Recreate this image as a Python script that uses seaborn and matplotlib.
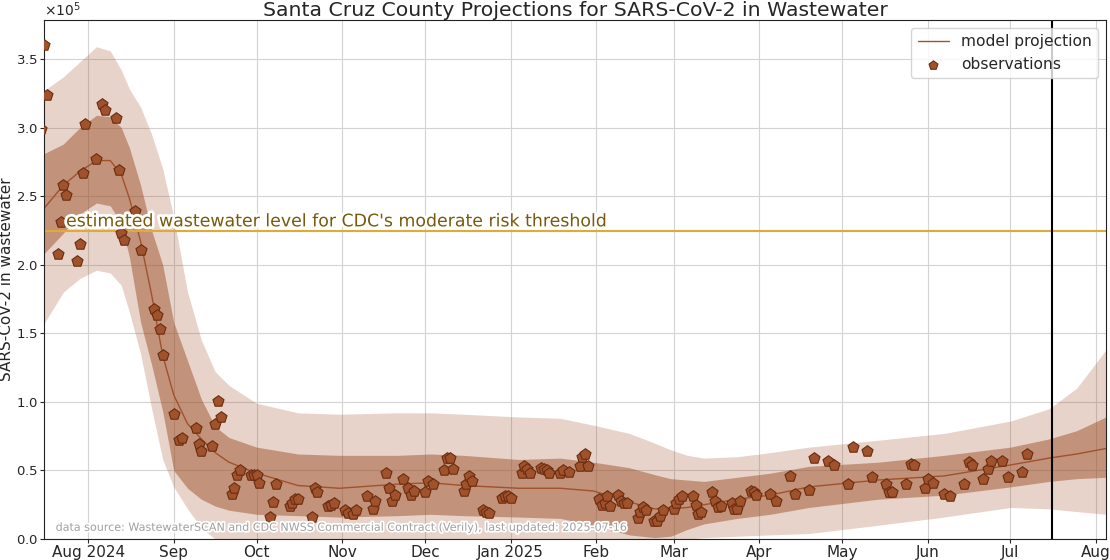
import numpy as np
import pandas as pd
import matplotlib
matplotlib.use("Agg")
import matplotlib.pyplot as plt
import matplotlib.patheffects as pe
from matplotlib.ticker import ScalarFormatter
import seaborn as sns

# ------------------------------------------------------------
# data (days counted from 2024-08-01, values in copies)
# ------------------------------------------------------------
base_date = pd.Timestamp("2024-08-01")

obs_day = [-17, -16, -15, -11, -10, -9, -8, -4, -3, -2, -1, 3, 5, 6, 10, 11, 12, 13, 17, 19,
           24, 25, 26, 27, 31, 33, 34, 39, 40, 41, 45, 46, 47, 48, 52, 53, 54, 55, 59, 60,
           61, 62, 66, 67, 68, 73, 74, 75, 76, 81, 82, 83, 87, 88, 89, 93, 94, 96, 97, 101,
           103, 104, 108, 109, 110, 111, 114, 116, 117, 118, 122, 123, 125, 129, 130, 131, 132, 136, 137, 138,
           139, 143, 144, 145, 150, 151, 152, 153, 157, 158, 159, 160, 164, 165, 166, 167, 171, 172, 174, 178,
           179, 180, 181, 185, 186, 187, 188, 189, 192, 193, 194, 195, 199, 200, 201, 202, 205, 206, 207, 208,
           212, 213, 214, 215, 219, 220, 221, 222, 226, 227, 228, 229, 233, 234, 235, 236, 240, 241, 242, 247,
           249, 254, 256, 261, 263, 268, 270, 275, 277, 282, 284, 289, 290, 291, 296, 298, 299, 303, 304, 306,
           310, 312, 317, 319, 320, 324, 326, 327, 331, 333, 338, 340]
obs_val = [2.99, 3.60, 3.24, 2.08, 2.31, 2.58, 2.51, 2.03, 2.15, 2.67, 3.03, 2.77, 3.17, 3.13, 3.07, 2.69, 2.23, 2.18, 2.39, 2.11,
           1.68, 1.63, 1.53, 1.34, 0.91, 0.72, 0.74, 0.81, 0.69, 0.64, 0.68, 0.84, 1.01, 0.89, 0.33, 0.37, 0.47, 0.50, 0.47, 0.47,
           0.47, 0.41, 0.16, 0.27, 0.40, 0.24, 0.26, 0.29, 0.29, 0.16, 0.37, 0.34, 0.24, 0.25, 0.26, 0.21, 0.19, 0.18, 0.21, 0.31,
           0.22, 0.28, 0.48, 0.37, 0.28, 0.32, 0.44, 0.37, 0.32, 0.35, 0.34, 0.42, 0.40, 0.50, 0.59, 0.59, 0.51, 0.35, 0.40, 0.46,
           0.42, 0.21, 0.20, 0.19, 0.30, 0.31, 0.31, 0.30, 0.48, 0.53, 0.51, 0.48, 0.52, 0.51, 0.50, 0.48, 0.48, 0.50, 0.49, 0.53,
           0.60, 0.62, 0.53, 0.29, 0.25, 0.26, 0.31, 0.24, 0.32, 0.28, 0.26, 0.26, 0.15, 0.20, 0.23, 0.21, 0.13, 0.13, 0.17, 0.21,
           0.22, 0.26, 0.29, 0.31, 0.31, 0.25, 0.18, 0.20, 0.34, 0.28, 0.23, 0.24, 0.26, 0.22, 0.22, 0.28, 0.35, 0.34, 0.32, 0.33,
           0.28, 0.46, 0.33, 0.36, 0.59, 0.57, 0.54, 0.40, 0.67, 0.64, 0.45, 0.40, 0.34, 0.34, 0.40, 0.55, 0.54, 0.37, 0.44, 0.41,
           0.33, 0.31, 0.40, 0.56, 0.54, 0.44, 0.51, 0.57, 0.57, 0.45, 0.49, 0.62]

model_day = [-16, -9, -3, 3, 8, 12, 15, 19, 23, 27, 31, 36, 41, 46, 51, 61, 76, 91, 112,
             124, 136, 156, 171, 183, 196, 205, 211, 217, 223, 235, 247, 261, 286, 310, 334, 348, 358, 368.6]
model_med = [2.41, 2.58, 2.68, 2.76, 2.76, 2.66, 2.48, 2.17, 1.78, 1.34, 1.05, 0.84, 0.73, 0.63, 0.56, 0.48, 0.39, 0.37, 0.40,
             0.41, 0.39, 0.37, 0.37, 0.35, 0.27, 0.22, 0.22, 0.23, 0.25, 0.29, 0.32, 0.38, 0.43, 0.46, 0.54, 0.59, 0.62, 0.66]
inner_hi = [2.81, 2.88, 3.00, 3.09, 3.08, 3.00, 2.85, 2.58, 2.25, 2.00, 1.58, 1.30, 1.02, 0.82, 0.74, 0.67, 0.62, 0.61, 0.61,
            0.62, 0.61, 0.58, 0.59, 0.56, 0.52, 0.47, 0.44, 0.43, 0.42, 0.45, 0.48, 0.53, 0.56, 0.61, 0.67, 0.73, 0.79, 0.89]
inner_lo = [2.08, 2.23, 2.37, 2.45, 2.43, 2.30, 2.05, 1.58, 1.27, 0.93, 0.50, 0.37, 0.29, 0.24, 0.21, 0.18, 0.17, 0.16, 0.17,
            0.18, 0.17, 0.16, 0.15, 0.10, 0.03, 0.01, 0.02, 0.07, 0.11, 0.15, 0.18, 0.23, 0.29, 0.32, 0.38, 0.42, 0.44, 0.45]
outer_hi = [3.27, 3.37, 3.48, 3.59, 3.56, 3.42, 3.28, 3.15, 2.95, 2.70, 2.35, 1.80, 1.45, 1.22, 1.12, 0.99, 0.92, 0.91, 0.92,
            0.92, 0.91, 0.89, 0.88, 0.83, 0.77, 0.70, 0.65, 0.61, 0.59, 0.60, 0.63, 0.67, 0.72, 0.77, 0.86, 0.95, 1.10, 1.38]
outer_lo = [1.57, 1.80, 1.90, 1.96, 1.94, 1.85, 1.65, 1.35, 0.95, 0.58, 0.38, 0.22, 0.08, 0.00, -0.05, -0.08, -0.10, -0.10, -0.10,
            -0.10, -0.10, -0.10, -0.10, -0.10, -0.10, -0.10, -0.05, 0.00, 0.01, 0.02, 0.03, 0.04, 0.10, 0.16, 0.23, 0.22, 0.20, 0.18]

threshold = 2.245
last_updated_day = 349
x_start_day, x_end_day = -16, 368.6

tick_months = pd.date_range("2024-08-01", "2025-08-01", freq="MS")
tick_labels = ["Aug 2024", "Sep", "Oct", "Nov", "Dec", "Jan 2025", "Feb", "Mar",
               "Apr", "May", "Jun", "Jul", "Aug"]

scale = 1e5
to_date = lambda d: base_date + pd.to_timedelta(np.asarray(d, dtype=float), unit="D")

obs = pd.DataFrame({"date": to_date(obs_day), "value": np.array(obs_val) * scale})
model = pd.DataFrame({
    "date": to_date(model_day),
    "median": np.array(model_med) * scale,
    "inner_lo": np.array(inner_lo) * scale,
    "inner_hi": np.array(inner_hi) * scale,
    "outer_lo": np.array(outer_lo) * scale,
    "outer_hi": np.array(outer_hi) * scale,
})

# ------------------------------------------------------------
# plot
# ------------------------------------------------------------
sns.set_style("ticks", {"axes.grid": True, "grid.color": "#d3d3d3", "axes.edgecolor": "#222222"})
plt.rcParams["font.family"] = ["DejaVu Sans"]

brown = "#a0522d"
fig, ax = plt.subplots(figsize=(11.1, 5.6), dpi=100)
fig.subplots_adjust(left=0.0396, right=0.9964, bottom=0.0375, top=0.9643)

ax.fill_between(model["date"], model["outer_lo"], model["outer_hi"], color=brown, alpha=0.25, lw=0)
ax.fill_between(model["date"], model["inner_lo"], model["inner_hi"], color=brown, alpha=0.5, lw=0)
sns.lineplot(data=model, x="date", y="median", ax=ax, color=brown, lw=1, label="model projection")
sns.scatterplot(data=obs, x="date", y="value", ax=ax, marker="p", s=70, color=brown,
                edgecolor="#6a2c0f", linewidth=0.8, label="observations", zorder=3)

ax.axhline(threshold * scale, color="#e0aa35", lw=1.5)
ax.text(to_date([-8])[0], 2.28 * scale, "estimated wastewater level for CDC's moderate risk threshold",
        color="#775a0c", fontsize=12.5, va="baseline",
        path_effects=[pe.withStroke(linewidth=4, foreground="white")])
ax.axvline(to_date([last_updated_day])[0], color="black", lw=1.5)

ax.text(0.011, 0.012, "data source: WastewaterSCAN and CDC NWSS Commercial Contract (Verily), last updated: 2025-07-16",
        transform=ax.transAxes, color="#a0a0a0", fontsize=8, va="bottom",
        path_effects=[pe.withStroke(linewidth=2.5, foreground="white")])

ax.set_xlim(to_date([x_start_day])[0], to_date([x_end_day])[0])
ax.set_ylim(0, 3.785 * scale)
ax.set_xticks(tick_months)
ax.set_xticklabels(tick_labels, fontsize=11)
ax.tick_params(axis="x", length=3, pad=1.5)
ax.tick_params(axis="y", labelsize=9.5, length=3, pad=1.5)
fmt = ScalarFormatter(useMathText=True)
fmt.set_powerlimits((0, 0))
ax.yaxis.set_major_formatter(fmt)
ax.yaxis.get_offset_text().set_fontsize(10)

ax.set_xlabel("")
ax.set_ylabel("SARS-CoV-2 in wastewater", fontsize=11, labelpad=1)
ax.set_title("Santa Cruz County Projections for SARS-CoV-2 in Wastewater", fontsize=14.7, pad=2)
leg = ax.legend(loc="upper right", fontsize=11.2, frameon=True, markerscale=0.8)
for s in ax.spines.values():
    s.set_visible(True)

fig.savefig("out.png", dpi=100)
